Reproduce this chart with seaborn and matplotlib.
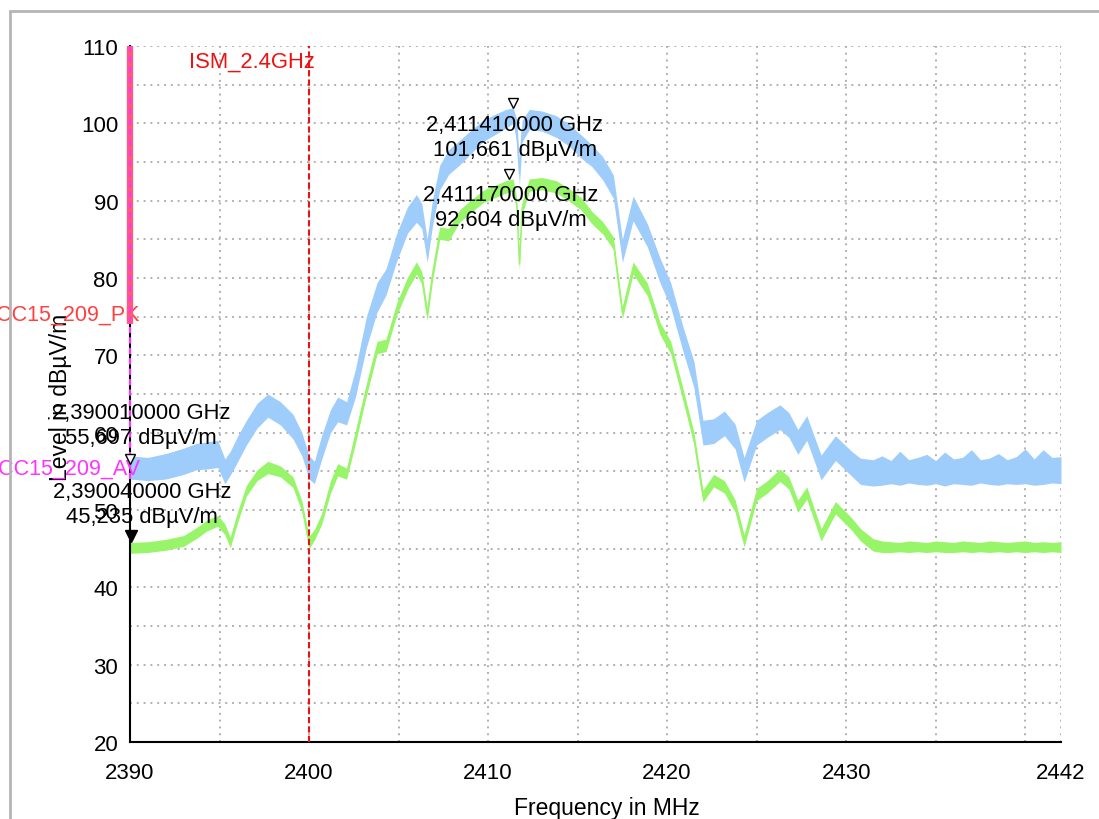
import matplotlib
matplotlib.use('Agg')
import pandas as pd
import matplotlib.pyplot as plt
import seaborn as sns
from matplotlib import transforms
from matplotlib.patches import Rectangle

sns.set_style('white')
plt.rcParams['font.family'] = ['Liberation Sans', 'DejaVu Sans']
plt.rcParams['text.color'] = 'black'
plt.rcParams['axes.labelcolor'] = 'black'
plt.rcParams['xtick.color'] = 'black'
plt.rcParams['ytick.color'] = 'black'

# frequency grid (MHz)
freq = [2390.0, 2391.0, 2392.0, 2393.0, 2393.7, 2394.3, 2394.9, 2395.3, 2395.6, 2396.0,
        2396.5, 2397.1, 2397.7, 2398.4, 2399.1, 2399.6, 2400.0, 2400.3, 2400.7, 2401.2,
        2401.6, 2402.1, 2402.6, 2403.2, 2403.8, 2404.3, 2404.9, 2405.5, 2406.0, 2406.3,
        2406.6, 2406.9, 2407.3, 2407.8, 2408.4, 2409.0, 2409.7, 2410.5, 2411.0, 2411.4,
        2411.6, 2411.75, 2411.9, 2412.3, 2413.0, 2413.8, 2414.5, 2415.2, 2415.8, 2416.4,
        2417.0, 2417.5, 2418.1, 2418.9, 2419.6, 2420.2, 2420.9, 2421.5, 2422.0, 2422.6,
        2423.2, 2423.8, 2424.3, 2425.0, 2425.6, 2426.3, 2426.8, 2427.3, 2427.8, 2428.6,
        2429.4, 2430.3, 2430.8, 2431.5, 2432.0, 2432.5, 2433.0, 2433.5, 2434.0, 2434.5,
        2435.0, 2435.5, 2436.0, 2436.5, 2437.0, 2437.5, 2438.0, 2438.5, 2439.0, 2439.5,
        2440.0, 2440.5, 2441.0, 2441.5, 2442.0]

# peak trace, upper / lower edge of the noisy band (dBuV/m)
peak_hi = [57.0, 56.8, 57.3, 58.0, 58.6, 58.8, 59.0, 56.6, 57.6, 59.5,
           61.6, 63.8, 65.0, 64.0, 62.4, 60.0, 57.0, 56.3, 59.6, 63.0,
           64.6, 64.0, 68.3, 75.0, 79.4, 81.2, 85.8, 89.2, 90.8, 89.6,
           85.0, 90.2, 94.6, 96.6, 97.8, 99.0, 100.4, 101.3, 101.8, 102.0,
           100.5, 95.0, 100.4, 101.8, 101.6, 101.0, 99.9, 98.5, 97.2, 95.7,
           93.3, 85.0, 90.6, 87.0, 82.6, 79.4, 73.6, 69.2, 61.6, 61.8,
           62.8, 61.1, 56.8, 61.6, 62.6, 63.6, 62.6, 60.4, 62.2, 57.1,
           59.6, 57.6, 56.7, 56.5, 57.0, 56.4, 57.6, 56.5, 56.8, 57.2,
           56.4, 57.5, 56.6, 56.8, 57.8, 56.5, 56.7, 57.3, 56.5, 56.9,
           57.9, 56.6, 57.8, 56.8, 56.9]
peak_lo = [54.0, 53.8, 54.0, 54.6, 55.2, 55.3, 55.5, 53.4, 54.5, 56.2,
           58.4, 60.6, 62.0, 61.0, 59.2, 57.0, 54.0, 53.4, 56.5, 60.0,
           61.4, 61.0, 64.7, 71.0, 75.6, 77.8, 82.2, 85.8, 87.2, 86.4,
           82.0, 86.8, 91.4, 93.4, 94.6, 96.0, 97.6, 98.7, 99.4, 100.0,
           97.5, 92.0, 97.6, 99.2, 99.0, 98.2, 97.1, 95.5, 94.4, 92.7,
           90.3, 82.0, 87.4, 84.0, 79.4, 76.2, 70.4, 65.8, 58.4, 58.6,
           59.6, 57.9, 53.6, 58.4, 59.4, 60.4, 59.4, 57.2, 59.0, 53.9,
           56.4, 54.4, 53.3, 53.1, 53.2, 53.4, 53.2, 53.5, 53.3, 53.2,
           53.4, 53.1, 53.4, 53.3, 53.2, 53.5, 53.3, 53.2, 53.4, 53.3,
           53.4, 53.2, 53.3, 53.5, 53.4]

# average trace
avg_hi = [45.8, 45.9, 46.2, 46.7, 47.7, 48.7, 49.3, 48.2, 46.5, 49.7,
          53.2, 55.2, 56.3, 55.7, 54.3, 51.2, 46.6, 47.5, 49.5, 53.8,
          56.0, 55.4, 60.3, 66.3, 71.8, 72.1, 76.8, 80.1, 82.1, 80.8,
          76.1, 81.3, 86.6, 86.4, 88.8, 90.0, 91.3, 92.1, 92.6, 92.8,
          90.3, 82.6, 89.8, 92.8, 93.0, 92.6, 91.6, 90.4, 88.6, 87.3,
          85.3, 76.3, 82.1, 79.3, 74.3, 71.8, 65.6, 60.0, 52.6, 54.6,
          53.8, 51.3, 46.8, 52.8, 53.8, 55.3, 54.3, 51.3, 53.0, 47.6,
          51.1, 49.0, 47.6, 46.3, 46.0, 45.9, 45.8, 46.0, 45.9, 45.8,
          46.0, 45.9, 45.8, 46.0, 45.9, 45.8, 46.0, 45.9, 45.8, 45.9,
          46.0, 45.8, 45.9, 45.8, 45.9]
avg_lo = [44.4, 44.5, 44.8, 45.3, 46.3, 47.3, 47.9, 46.8, 45.1, 48.3,
          51.8, 53.8, 54.7, 54.3, 52.9, 49.8, 45.0, 46.1, 48.1, 52.2,
          54.4, 54.0, 58.7, 64.7, 70.2, 70.5, 75.2, 78.5, 80.5, 79.2,
          74.5, 79.7, 85.0, 84.8, 87.2, 88.4, 89.7, 90.5, 91.0, 91.2,
          88.7, 81.0, 88.2, 91.2, 91.4, 91.0, 90.0, 88.8, 87.0, 85.7,
          83.7, 74.7, 80.5, 77.7, 72.7, 70.2, 64.0, 58.4, 51.0, 53.0,
          52.2, 49.7, 45.2, 51.2, 52.2, 53.7, 52.7, 49.7, 51.4, 46.0,
          49.5, 47.4, 46.0, 44.7, 44.5, 44.5, 44.6, 44.5, 44.6, 44.5,
          44.6, 44.5, 44.5, 44.6, 44.5, 44.6, 44.5, 44.6, 44.5, 44.6,
          44.5, 44.6, 44.5, 44.6, 44.5]

# markers
mk_freq = [2411.41, 2411.17, 2390.01, 2390.04]
mk_level = [101.661, 92.604, 55.697, 45.235]
mk_text = ['2,411410000 GHz\n101,661 dB\u00b5V/m',
           '2,411170000 GHz\n92,604 dB\u00b5V/m',
           '2,390010000 GHz\n55,697 dB\u00b5V/m',
           '2,390040000 GHz\n45,235 dB\u00b5V/m']

pk_limit = 74
av_limit = 54

xticks = [2390, 2395, 2400, 2405, 2410, 2415, 2420, 2425, 2430, 2435, 2440, 2442]
xlabels = ['2390', '', '2400', '', '2410', '', '2420', '', '2430', '', '', '2442']

df = pd.concat([
    pd.DataFrame({'freq': freq, 'level': peak_hi, 'trace': 'PK'}),
    pd.DataFrame({'freq': freq, 'level': peak_lo, 'trace': 'PK'}),
    pd.DataFrame({'freq': freq, 'level': avg_hi, 'trace': 'AV'}),
    pd.DataFrame({'freq': freq, 'level': avg_lo, 'trace': 'AV'}),
])

fig = plt.figure(figsize=(10.99, 8.20), dpi=100)
ax = fig.add_axes([130 / 1099, 77 / 820, 931 / 1099, 696 / 820])

sns.lineplot(data=df, x='freq', y='level', hue='trace', hue_order=['PK', 'AV'],
             palette={'PK': '#9fcdfb', 'AV': '#98f56a'},
             estimator='mean', errorbar=('pi', 100),
             err_kws={'alpha': 1, 'linewidth': 0}, linewidth=1,
             legend=False, ax=ax)

ax.set_xlim(2390, 2442)
ax.set_ylim(20, 110)
ax.set_xticks(xticks)
ax.set_xticklabels(xlabels)
ax.set_yticks(range(20, 111, 10))
ax.set_yticks(range(25, 110, 10), minor=True)
ax.grid(True, which='both', color='#b0b0b0', ls=(0, (1, 2.5)), lw=1.4)
ax.tick_params(which='both', direction='inout', length=11, width=1.4,
               color='black', labelsize=16, pad=3)
ax.tick_params(axis='x', pad=9)
for s in ['top', 'right']:
    ax.spines[s].set_visible(False)
for s in ['left', 'bottom']:
    ax.spines[s].set_color('black')
    ax.spines[s].set_linewidth(1.5)

ax.set_xlabel('Frequency in MHz', fontsize=16.5)
ax.xaxis.set_label_coords(0.512, -0.077)
ax.set_ylabel('Level in dB\u00b5V/m', fontsize=16.5)
ax.yaxis.set_label_coords(-0.062, 0.496)

# ISM band edge
ax.axvline(2400, color='#ee1111', ls=(0, (3, 1.5)), lw=1.5, zorder=3)
ax.text(2400.3, 109.4, 'ISM_2.4GHz', color='#ee1111', ha='right', va='top', fontsize=15.8)

# limit lines at the band edge
ax.plot([2390, 2390], [pk_limit, 110], color='#ff5a78', lw=4.5,
        solid_capstyle='butt', zorder=4, clip_on=False)
ax.plot([2390, 2390], [av_limit, 110], color='#ff33ff', lw=1.5,
        ls=(0, (3, 2)), zorder=5, clip_on=False)
ax.text(2390.56, pk_limit, 'FCC15_209_PK', color='#ff4040', ha='right', va='bottom', fontsize=15.5)
ax.text(2390.56, av_limit, 'FCC15_209_AV', color='#ff33ff', ha='right', va='bottom', fontsize=15.5)

# markers
up7 = transforms.offset_copy(ax.transData, fig=fig, y=7, units='dots')
up11 = transforms.offset_copy(ax.transData, fig=fig, y=11, units='dots')
for i in range(3):
    ax.plot(mk_freq[i], mk_level[i], marker='v', ms=7.5, mfc='white', mec='black',
            mew=1, transform=up7, zorder=6, clip_on=False)
ax.plot(mk_freq[3], mk_level[3], marker='v', ms=9, color='black',
        transform=up11, zorder=6, clip_on=False)

for i in range(2):
    ax.annotate(mk_text[i], xy=(mk_freq[i], mk_level[i]), xytext=(1, -2.5),
                textcoords='offset points', ha='center', va='top',
                fontsize=15.8, linespacing=1.25, zorder=7)
ax.annotate(mk_text[2], xy=(mk_freq[2], mk_level[2]), xytext=(8, 13),
            textcoords='offset points', ha='center', va='bottom',
            fontsize=15.8, linespacing=1.25, zorder=7)
ax.annotate(mk_text[3], xy=(mk_freq[3], mk_level[3]), xytext=(8, 14),
            textcoords='offset points', ha='center', va='bottom',
            fontsize=15.8, linespacing=1.25, zorder=7)

# panel border
fig.patches.append(Rectangle((10 / 1099, -0.05), 1.2, 0.05 + 1 - 12 / 820,
                             transform=fig.transFigure, fill=False,
                             ec='#b4b4b4', lw=2))

fig.savefig('out.png', dpi=100)
